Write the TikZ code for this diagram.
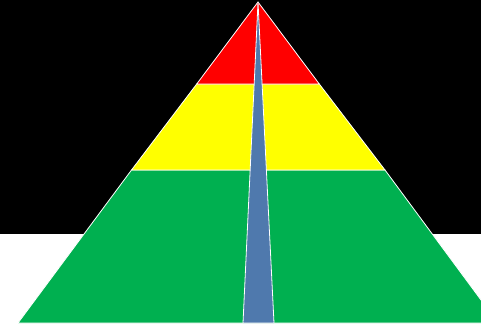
\documentclass[tikz,border=0pt]{standalone}
\definecolor{pgreen}{HTML}{00B050}
\definecolor{pblue}{HTML}{4F79AD}
\definecolor{pyellow}{HTML}{FFFF00}
\definecolor{pred}{HTML}{FF0000}
\begin{document}
\begin{tikzpicture}[x=1pt,y=-1pt,
  band/.style={draw=white,line width=0.8pt,line join=miter}]
\useasboundingbox (0,0) rectangle (481,325);
\clip (0,0) rectangle (481,325);
\fill[white] (0,0) rectangle (481,325);
\fill[black] (0,0) rectangle (481,234);
% key points
\coordinate (apex) at (258,2);
\coordinate (rl) at (196.7,84);
\coordinate (rr) at (319.3,84);
\coordinate (yl) at (131.5,170);
\coordinate (yr) at (385,170);
\coordinate (gl) at (18,323);
\coordinate (gr) at (498,323);
\coordinate (wl) at (243,323);
\coordinate (wr) at (274,323);
% bands
\path[band,fill=pgreen] (yl) -- (yr) -- (gr) -- (gl) -- cycle;
\path[band,fill=pyellow] (rl) -- (rr) -- (yr) -- (yl) -- cycle;
\path[band,fill=pred] (apex) -- (rr) -- (rl) -- cycle;
% wedge
\path[band,fill=pblue] (apex) -- (wr) -- (wl) -- cycle;
\end{tikzpicture}
\end{document}
